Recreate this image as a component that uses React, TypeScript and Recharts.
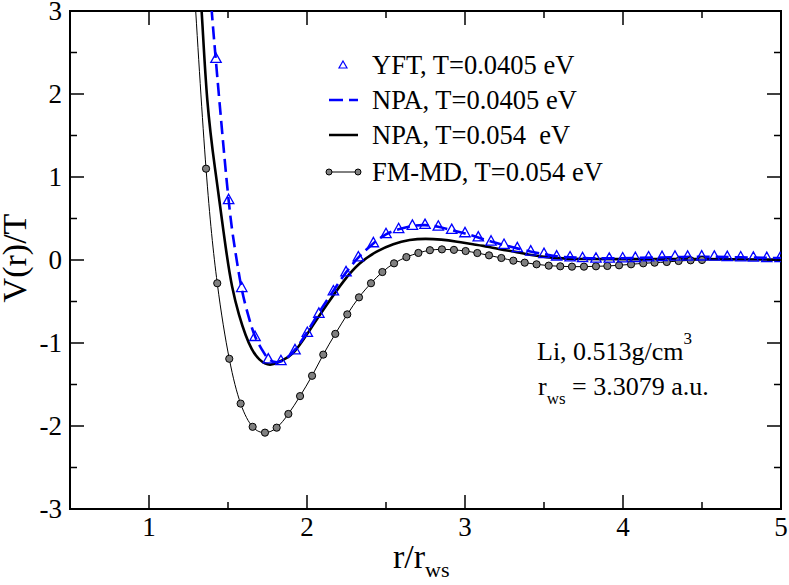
import React from "react";
import {
  LineChart,
  Line,
  Scatter,
  XAxis,
  YAxis,
  ReferenceArea,
} from "recharts";

// FM-MD, T=0.054 eV (circles), first point sits just above the frame
const fmmdX = [
  1.286, 1.361, 1.432, 1.508, 1.58, 1.656, 1.734, 1.808, 1.882, 1.956, 2.032,
  2.103, 2.179, 2.255, 2.329, 2.405, 2.477, 2.551, 2.629, 2.705, 2.778, 2.854,
  2.93, 3.004, 3.078, 3.152, 3.23, 3.306, 3.378, 3.453, 3.53, 3.603, 3.677,
  3.753, 3.829, 3.901, 3.975, 4.051, 4.128, 4.2, 4.277, 4.352, 4.428, 4.5,
];
const fmmdY = [
  3.3, 1.1, -0.28, -1.19, -1.73, -2.01, -2.08, -2.02, -1.855, -1.64, -1.395,
  -1.14, -0.89, -0.655, -0.45, -0.28, -0.145, -0.04, 0.035, 0.085, 0.118,
  0.128, 0.122, 0.108, 0.084, 0.056, 0.024, -0.008, -0.032, -0.052, -0.068,
  -0.076, -0.08, -0.08, -0.076, -0.072, -0.064, -0.052, -0.04, -0.032, -0.024,
  -0.012, -0.004, 0.0,
];

// NPA, T=0.054 eV (solid black)
const npa054X = [
  1.31, 1.333, 1.369, 1.418, 1.445, 1.485, 1.526, 1.57, 1.611, 1.65, 1.7, 1.766,
  1.83, 1.913, 2.019, 2.125, 2.23, 2.335, 2.441, 2.546, 2.65, 2.75, 2.85, 2.95,
  3.05, 3.116, 3.22, 3.327, 3.42, 3.517, 3.62, 3.75, 4.0, 4.5, 5.0,
];
const npa054Y = [
  3.45, 3.0, 1.93, 1.1, 0.72, 0.16, -0.32, -0.66, -0.9, -1.07, -1.2, -1.26,
  -1.22, -1.12, -0.84, -0.54, -0.26, -0.04, 0.1, 0.19, 0.24, 0.255, 0.245,
  0.22, 0.19, 0.17, 0.13, 0.095, 0.06, 0.035, 0.02, 0.012, 0.01, 0.01, 0.005,
];

// NPA, T=0.0405 eV (blue dashed)
const npa0405X = [
  1.38, 1.397, 1.445, 1.504, 1.545, 1.586, 1.63, 1.671, 1.715, 1.755, 1.8, 1.85,
  1.924, 2.0, 2.08, 2.167, 2.251, 2.335, 2.42, 2.5, 2.58, 2.667, 2.747, 2.83,
  2.916, 3.0, 3.084, 3.17, 3.25, 3.33, 3.42, 3.5, 3.58, 3.66, 3.75, 3.9, 4.1,
  4.3, 4.5, 4.7, 4.9, 5.0,
];
const npa0405Y = [
  3.5, 3.0, 1.93, 0.72, 0.12, -0.34, -0.68, -0.92, -1.08, -1.19, -1.23, -1.21,
  -1.08, -0.87, -0.62, -0.37, -0.14, 0.05, 0.2, 0.31, 0.37, 0.41, 0.42, 0.4,
  0.36, 0.32, 0.27, 0.22, 0.18, 0.14, 0.1, 0.07, 0.045, 0.033, 0.025, 0.02,
  0.025, 0.033, 0.038, 0.034, 0.026, 0.022,
];

// YFT, T=0.0405 eV (open triangles)
const yftX = [
  1.424, 1.504, 1.587, 1.671, 1.755, 1.835, 1.924, 2.002, 2.075, 2.167, 2.247,
  2.325, 2.42, 2.5, 2.58, 2.667, 2.747, 2.831, 2.916, 3.0, 3.084, 3.165, 3.247,
  3.331, 3.416, 3.5, 3.58, 3.665, 3.744, 3.829, 3.913, 3.998, 4.078, 4.162,
  4.247, 4.329, 4.409, 4.498, 4.578, 4.66, 4.745, 4.825, 4.91, 4.994,
];
const yftY = [
  2.43, 0.73, -0.33, -0.92, -1.19, -1.21, -1.08, -0.87, -0.64, -0.37, -0.14,
  0.04, 0.21, 0.32, 0.38, 0.42, 0.43, 0.41, 0.37, 0.33, 0.28, 0.23, 0.19, 0.15,
  0.11, 0.08, 0.05, 0.04, 0.03, 0.025, 0.025, 0.028, 0.032, 0.04, 0.044, 0.048,
  0.048, 0.05, 0.048, 0.044, 0.04, 0.036, 0.032, 0.03,
];

const xTicks = [1, 1.5, 2, 2.5, 3, 3.5, 4, 4.5, 5];
const yTicks = [-3, -2.5, -2, -1.5, -1, -0.5, 0, 0.5, 1, 1.5, 2, 2.5, 3];

const zip = (xs: number[], ys: number[]) => xs.map((x, i) => ({ x, y: ys[i] }));

const fmmd = zip(fmmdX, fmmdY);
const npa054 = zip(npa054X, npa054Y);
const npa0405 = zip(npa0405X, npa0405Y);
const yft = zip(yftX, yftY);

const W = 789;
const H = 585;
const PLOT = { left: 70, right: 781, top: 11, bottom: 509 };
const FONT = "'Liberation Serif', 'DejaVu Serif', serif";
const BLUE = "#0000ff";

function XTick(props: any) {
  const { x, y, payload } = props;
  const v = payload.value as number;
  const major = Number.isInteger(v);
  const len = major ? 14 : 7;
  return (
    <g>
      <line x1={x} x2={x} y1={PLOT.bottom} y2={PLOT.bottom - len} stroke="#000" strokeWidth={1.5} />
      <line x1={x} x2={x} y1={PLOT.top} y2={PLOT.top + len} stroke="#000" strokeWidth={1.5} />
      {major && (
        <text x={x} y={y + 19} textAnchor="middle" fontSize={27} fontFamily={FONT} fill="#000">
          {v}
        </text>
      )}
    </g>
  );
}

function YTick(props: any) {
  const { y, payload } = props;
  const v = payload.value as number;
  const major = Number.isInteger(v);
  const len = major ? 14 : 7;
  return (
    <g>
      <line x1={PLOT.left} x2={PLOT.left + len} y1={y} y2={y} stroke="#000" strokeWidth={1.5} />
      <line x1={PLOT.right} x2={PLOT.right - len} y1={y} y2={y} stroke="#000" strokeWidth={1.5} />
      {major && (
        <text x={PLOT.left - 8} y={y + 9} textAnchor="end" fontSize={27} fontFamily={FONT} fill="#000">
          {v}
        </text>
      )}
    </g>
  );
}

function Circle(props: any) {
  const { cx, cy, payload, index } = props;
  if (payload.y > 3) return <g key={index} />;
  return <circle key={index} cx={cx} cy={cy} r={3.6} fill="#808080" stroke="#000" strokeWidth={1} />;
}

function Triangle(props: any) {
  const { cx, cy } = props;
  const s = 5.2;
  return (
    <path
      d={`M${cx},${cy - s} L${cx + s},${cy + s * 0.8} L${cx - s},${cy + s * 0.8} Z`}
      fill="none"
      stroke={BLUE}
      strokeWidth={1.3}
    />
  );
}

function Overlay() {
  const rows = [65, 100, 135, 172];
  return (
    <svg
      width={W}
      height={H}
      style={{ position: "absolute", left: 0, top: 0, pointerEvents: "none" }}
      fontFamily={FONT}
    >
      {/* legend */}
      <path
        d={`M343,${rows[0] - 4} L347,${rows[0] + 3} L339,${rows[0] + 3} Z`}
        fill="none"
        stroke={BLUE}
        strokeWidth={1.2}
      />
      <line x1={329} x2={358} y1={rows[1]} y2={rows[1]} stroke={BLUE} strokeWidth={2.5} strokeDasharray="14 6" />
      <line x1={329} x2={358} y1={rows[2]} y2={rows[2]} stroke="#000" strokeWidth={2.5} />
      <line x1={329} x2={358} y1={rows[3]} y2={rows[3]} stroke="#000" strokeWidth={1} />
      <circle cx={329} cy={rows[3]} r={3} fill="#808080" stroke="#000" />
      <circle cx={358} cy={rows[3]} r={3} fill="#808080" stroke="#000" />
      {["YFT, T=0.0405 eV", "NPA, T=0.0405 eV", "NPA, T=0.054\u00a0 eV", "FM-MD, T=0.054 eV"].map((t, i) => (
        <text key={t} x={372} y={rows[i] + 9} fontSize={26.5} fill="#000">
          {t}
        </text>
      ))}

      {/* annotation */}
      <text x={537} y={360} fontSize={26} fill="#000">
        Li, 0.513g/cm
        <tspan fontSize={17} dy={-16}>3</tspan>
      </text>
      <text x={538} y={395} fontSize={26} fill="#000">
        r<tspan fontSize={17} dy={9}>ws</tspan>
        <tspan dy={-9}> = 3.3079 a.u.</tspan>
      </text>

      {/* axis titles */}
      <text
        x={0}
        y={0}
        transform="translate(26,258) rotate(-90)"
        textAnchor="middle"
        fontSize={34}
        fill="#000"
      >
        V(r)/T
      </text>
      <text x={393} y={568} fontSize={34} fill="#000">
        r/r<tspan fontSize={22} dy={9}>ws</tspan>
      </text>
    </svg>
  );
}

export default function App() {
  return (
    <div style={{ position: "absolute", left: 0, top: 0, width: W, height: H, background: "#fff" }}>
      <LineChart width={W} height={H} margin={{ top: PLOT.top, right: W - PLOT.right, bottom: 0, left: 0 }}>
        <XAxis
          type="number"
          dataKey="x"
          domain={[0.5, 5]}
          ticks={xTicks}
          allowDataOverflow
          height={H - PLOT.bottom}
          axisLine={false}
          tickLine={false}
          tickSize={0}
          tickMargin={8}
          tick={XTick}
          interval={0}
        />
        <YAxis
          type="number"
          dataKey="y"
          domain={[-3, 3]}
          ticks={yTicks}
          allowDataOverflow
          width={PLOT.left}
          axisLine={false}
          tickLine={false}
          tickSize={0}
          tickMargin={8}
          tick={YTick}
          interval={0}
        />
        <ReferenceArea x1={0.5} x2={5} y1={-3} y2={3} fill="none" stroke="#000" strokeWidth={2} />
        <Line
          data={fmmd}
          dataKey="y"
          type="natural"
          stroke="#000"
          strokeWidth={1}
          dot={Circle}
          activeDot={false}
          isAnimationActive={false}
        />
        <Line
          data={npa054}
          dataKey="y"
          type="natural"
          stroke="#000"
          strokeWidth={2.6}
          dot={false}
          activeDot={false}
          isAnimationActive={false}
        />
        <Line
          data={npa0405}
          dataKey="y"
          type="natural"
          stroke={BLUE}
          strokeWidth={2.6}
          strokeDasharray="13 6"
          dot={false}
          activeDot={false}
          isAnimationActive={false}
        />
        <Scatter data={yft} shape={Triangle} isAnimationActive={false} />
      </LineChart>
      <Overlay />
    </div>
  );
}
